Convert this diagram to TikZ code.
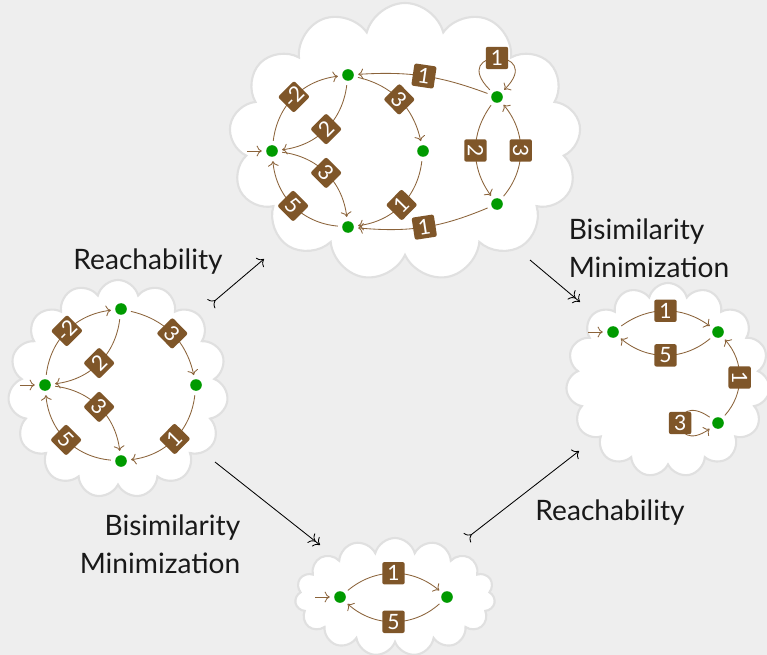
\documentclass[tikz,border=0pt]{standalone}
\usepackage{fontspec}
\setmainfont{Lato}
\usetikzlibrary{arrows.meta,positioning,shapes.symbols}
\definecolor{paneGray}{HTML}{EEEEEE}
\definecolor{puffGray}{HTML}{E0E0E0}
\definecolor{stateGreen}{HTML}{009A00}
\definecolor{weightBrown}{HTML}{7F5629}
\definecolor{edgeBrown}{HTML}{8B633A}
\tikzset{
  state/.style={circle, fill=stateGreen, inner sep=0pt, minimum size=2.9mm, outer sep=1.1mm},
  wt/.style={fill=weightBrown, text=white, rounded corners=1.5pt, inner sep=1pt, minimum width=5.6mm, minimum height=5.6mm, font=\fontsize{15}{15}\selectfont},
  trans/.style={-{To[scale=1.25]}, draw=edgeBrown, line width=0.6pt},
  bubble/.style={cloud, cloud puffs=15, fill=white, draw=puffGray, line width=1.5pt},
  reach/.style={{To[reversed,scale=1.4]}-{To[scale=1.4]}, line width=0.6pt},
  minimize/.style={-{To[scale=1.4]To[scale=1.4]}, line width=0.6pt},
  caption/.style={font=\fontsize{20}{27}\selectfont, text=black!90}
}
\begin{document}
\begin{tikzpicture}[x=0.25mm, y=-0.25mm, on grid]
  \useasboundingbox[fill=paneGray] (0,0) rectangle (767,655);

  % the four clouds
  \node[bubble, cloud puffs=13, minimum width=88mm, minimum height=69.5mm] (topcloud) at (405,142) {};
  \node[bubble, minimum width=55mm, minimum height=54.5mm] (leftcloud) at (118,389) {};
  \node[bubble, minimum width=51mm, minimum height=48.5mm] (rightcloud) at (668,380) {};
  \node[bubble, minimum width=50mm, minimum height=29.5mm] (botcloud) at (395,597) {};

  % left automaton
  \node[state] (l0) at (45,385) {};
  \node[state, above right=19mm and 19mm of l0] (l1) {};
  \node[state, right=37.75mm of l0] (l2) {};
  \node[state, below right=19mm and 19mm of l0] (l3) {};
  \coordinate[left=6.25mm of l0] (l0in);
  \draw[trans] (l0in) -- (l0);
  \draw[trans] (l0) to[bend left=38] node[wt,sloped] {-2} (l1);
  \draw[trans] (l1) to[bend left=38] node[wt,sloped] {2} (l0);
  \draw[trans] (l1) to[bend left=32] node[wt,sloped] {3} (l2);
  \draw[trans] (l0) to[bend left=38] node[wt,sloped] {3} (l3);
  \draw[trans] (l3) to[bend left=40] node[wt,sloped] {5} (l0);
  \draw[trans] (l2) to[bend left=38] node[wt,sloped] {1} (l3);

  % top automaton
  \node[state] (a0) at (272,151) {};
  \node[state, above right=19mm and 19mm of a0] (a1) {};
  \node[state, right=37.75mm of a0] (a2) {};
  \node[state, below right=19mm and 19mm of a0] (a3) {};
  \node[state, above right=13.5mm and 18.5mm of a2] (b1) {};
  \node[state, below=26.75mm of b1] (b2) {};
  \coordinate[left=6.25mm of a0] (a0in);
  \draw[trans] (a0in) -- (a0);
  \draw[trans] (a0) to[bend left=38] node[wt,sloped] {-2} (a1);
  \draw[trans] (a1) to[bend left=38] node[wt,sloped] {2} (a0);
  \draw[trans] (a1) to[bend left=32] node[wt,sloped] {3} (a2);
  \draw[trans] (a0) to[bend left=38] node[wt,sloped] {3} (a3);
  \draw[trans] (a3) to[bend left=40] node[wt,sloped] {5} (a0);
  \draw[trans] (a2) to[bend left=38] node[wt,sloped] {1} (a3);
  \draw[trans] (b1) to[bend right=12] node[wt,sloped] {1} (a1);
  \draw[trans] (b2) to[bend left=14] node[wt,sloped] {1} (a3);
  \draw[trans] (b1) to[bend right=36] node[wt,rotate=-90] {2} (b2);
  \draw[trans] (b2) to[bend right=40] node[wt,rotate=-90] {3} (b1);
  \draw[trans] (b1) to[loop, out=135, in=45, min distance=15mm] node[wt] {1} (b1);

  % right automaton
  \node[state] (r0) at (613,332) {};
  \node[state, right=26.25mm of r0] (r1) {};
  \node[state, below=22.75mm of r1] (r2) {};
  \coordinate[left=6.25mm of r0] (r0in);
  \draw[trans] (r0in) -- (r0);
  \draw[trans] (r0) to[bend left=36] node[wt,sloped] {1} (r1);
  \draw[trans] (r1) to[bend left=40] node[wt,sloped] {5} (r0);
  \draw[trans] (r2) to[bend right=42] node[wt,rotate=-90] {1} (r1);
  \draw[trans] (r2) to[loop, out=145, in=215, min distance=12mm] node[wt] {3} (r2);

  % bottom automaton
  \node[state] (p0) at (340,597) {};
  \node[state, right=26.75mm of p0] (p1) {};
  \coordinate[left=6.25mm of p0] (p0in);
  \draw[trans] (p0in) -- (p0);
  \draw[trans] (p0) to[bend left=40] node[wt,sloped] {1} (p1);
  \draw[trans] (p1) to[bend left=42] node[wt,sloped] {5} (p0);

  % maps between the clouds
  \coordinate (reachA) at (211,304);
  \coordinate (reachB) at (264,259);
  \coordinate (minA) at (530,260);
  \coordinate (minB) at (580,302);
  \coordinate (minC) at (215,462);
  \coordinate (minD) at (320,545);
  \coordinate (reachC) at (467,538);
  \coordinate (reachD) at (579,451);
  \draw[reach] (reachA) -- (reachB);
  \draw[minimize] (minA) -- (minB);
  \draw[minimize] (minC) -- (minD);
  \draw[reach] (reachC) -- (reachD);

  \node[caption] (reachtop) at (148,262) {Reachability};
  \node[caption, align=left] (mintop) at (649,248) {Bisimilarity\\Minimization};
  \node[caption, align=right] (minbot) at (160,544) {Bisimilarity\\Minimization};
  \node[caption] (reachbot) at (610,513) {Reachability};
\end{tikzpicture}
\end{document}
